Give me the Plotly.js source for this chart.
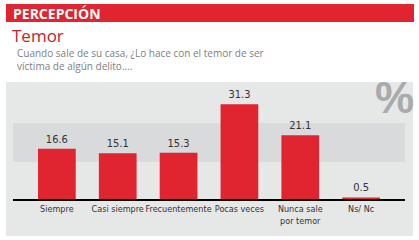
<!DOCTYPE html>
<html><head><meta charset="utf-8">
<script src="https://cdn.plot.ly/plotly-3.0.1.min.js"></script>
<style>html,body{margin:0;padding:0;background:#fff;}#c{width:419px;height:240px;}</style>
</head><body><div id="c"></div>
<script>
const categories = ["Siempre", "Casi siempre", "Frecuentemente", "Pocas veces", "Nunca sale<br>por temor", "Ns/ Nc"];
const values = [16.6, 15.1, 15.3, 31.3, 21.1, 0.5];
const valueLabels = ["16.6", "15.1", "15.3", "31.3", "21.1", "0.5"];

const RED = "#e02530";
const W = 392, H = 117, L = 13, T = 82;
const px = x => (x - L) / W;
const py = y => (T + H - y) / H;
const NARROW = "DejaVu Sans Condensed, sans-serif";

const trace = {
  type: "bar", x: categories, y: values,
  text: valueLabels, textposition: "outside", cliponaxis: false,
  textfont: {family: NARROW, size: 11, color: "#333"},
  marker: {color: RED}, hoverinfo: "none"
};

const layout = {
  width: 419, height: 240,
  margin: {l: L, r: 419 - L - W, t: T, b: 240 - T - H, pad: 0},
  paper_bgcolor: "#ffffff", plot_bgcolor: "rgba(0,0,0,0)",
  showlegend: false, bargap: 0.38,
  font: {family: NARROW, color: "#333"},
  xaxis: {
    range: [-0.721, 5.721], showgrid: false, zeroline: false,
    showline: true, linecolor: "#000", linewidth: 2, ticks: "", tickangle: 0,
    tickfont: {family: NARROW, size: 9, color: "#333"}, fixedrange: true
  },
  yaxis: {range: [0, 38.7], visible: false, fixedrange: true},
  shapes: [
    {type: "rect", xref: "paper", yref: "paper", x0: px(6), x1: px(413), y0: py(236), y1: py(82), fillcolor: "#e6e7e7", line: {width: 0}, layer: "below"},
    {type: "rect", xref: "paper", yref: "paper", x0: 0, x1: 1, y0: py(162), y1: py(123), fillcolor: "#d8dadb", line: {width: 0}, layer: "below"},
    {type: "rect", xref: "paper", yref: "paper", x0: px(6), x1: px(414), y0: py(22), y1: py(4), fillcolor: RED, line: {width: 0}, layer: "below"}
  ],
  annotations: [
    {xref: "paper", yref: "paper", x: px(11), y: py(13), xanchor: "left", yanchor: "middle", showarrow: false,
     text: "<b>PERCEPCIÓN</b>", font: {family: "Open Sans, sans-serif", size: 14, color: "#fff"}},
    {xref: "paper", yref: "paper", x: px(10), y: py(35), xanchor: "left", yanchor: "middle", showarrow: false,
     text: "Temor", font: {family: "Open Sans, sans-serif", size: 17, color: "#c8202b"}},
    {xref: "paper", yref: "paper", x: px(15), y: py(59), xanchor: "left", yanchor: "middle", showarrow: false, align: "left",
     text: "Cuando sale de su casa, ¿Lo hace con el temor de ser<br>víctima de algún delito....",
     font: {family: "Open Sans, sans-serif", size: 10, color: "#808080"}},
    {xref: "paper", yref: "paper", x: px(416), y: py(97), xanchor: "right", yanchor: "middle", showarrow: false,
     text: "<b>%</b>", font: {family: "Liberation Sans, sans-serif", size: 44, color: "#a8aaac"}}
  ]
};

Plotly.newPlot("c", [trace], layout, {displayModeBar: false, staticPlot: true});
</script></body></html>
